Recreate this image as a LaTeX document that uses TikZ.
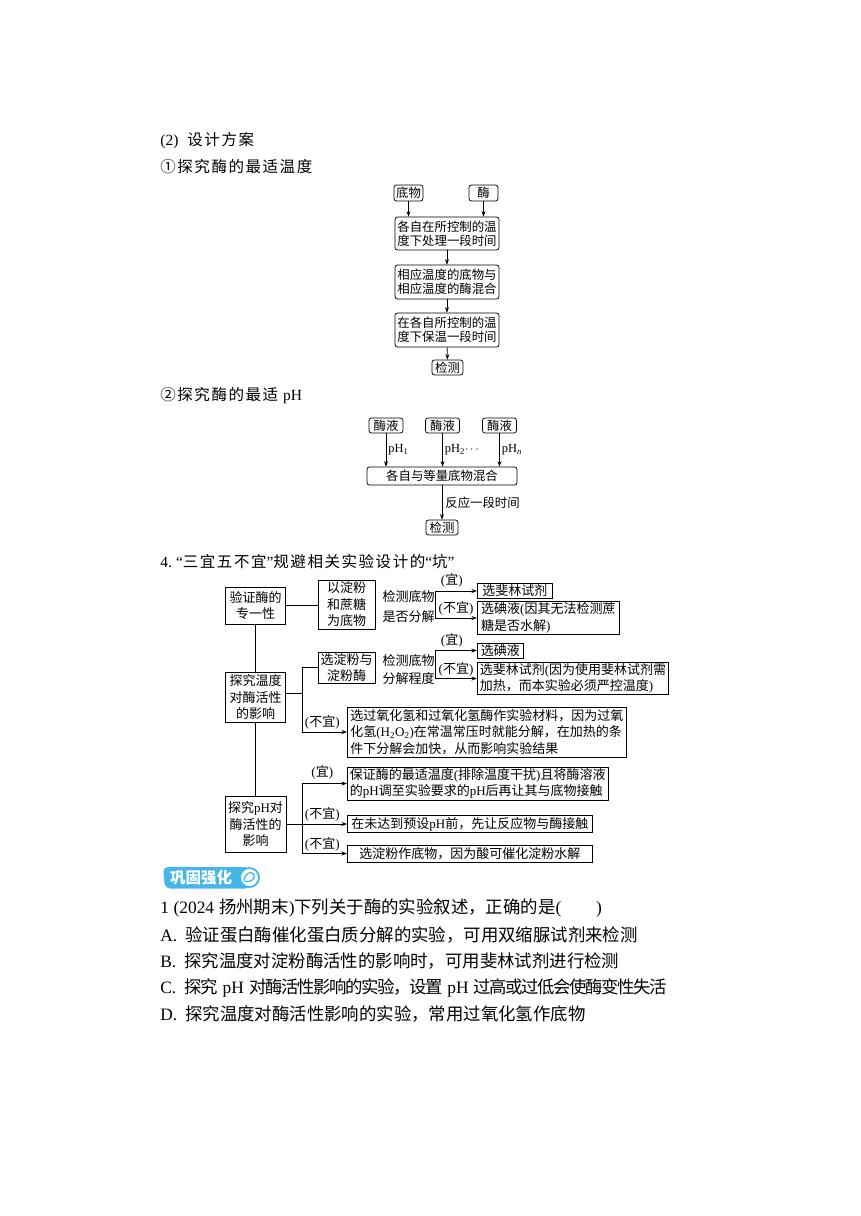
\documentclass[tikz,border=0pt]{standalone}
\usepackage{fontspec}
\setmainfont{Noto Sans CJK SC}
\newfontfamily\latf{Liberation Serif}
\newfontfamily\cjksp[LetterSpace=10]{Noto Sans CJK SC}
\newfontfamily\cjkcond[LetterSpace=-8]{Noto Sans CJK SC}
\newcommand\Lt[1]{{\latf #1}}
\newcommand\gap[1]{\hspace*{#1pt}}
\newcommand\fsA{\fontsize{12.4}{14}\selectfont}
\newcommand\fsB{\fontsize{13}{16.5}\selectfont}
\newcommand\fsH{\fontsize{15.5}{18}\selectfont\cjksp}
\newcommand\fsQ{\fontsize{17.4}{20}\selectfont}
\usetikzlibrary{arrows.meta}
\definecolor{badge}{RGB}{70,182,232}
\begin{document}
\begin{tikzpicture}[x=1pt,y=-1pt,
  line width=0.75pt,
  rbox/.style={draw, rounded corners=2.5pt, inner xsep=1.5pt, inner ysep=1pt, align=center, font=\fsA},
  sbox/.style={draw, inner xsep=2.5pt, inner ysep=1pt, align=center, font=\fsB},
  lbox/.style={draw, inner xsep=2.5pt, inner ysep=1pt, align=left, font=\fsB, anchor=west},
  plain/.style={inner sep=0pt, align=center, font=\fsB},
  lab/.style={inner sep=0pt, font=\fsB},
  arr/.style={-{Stealth[length=5.5pt,width=4pt]}},
  head/.style={anchor=west, inner sep=0pt, font=\fsH},
  ques/.style={anchor=west, inner sep=0pt, font=\fsQ}]
\useasboundingbox (0,0) rectangle (860,1216);

% headings
\node[head] (h1) at (160,141) {\Lt{(2)}\gap{9}设计方案};
\node[head] (h2) at (160,167) {①探究酶的最适温度};

% chart 1
\node[rbox, minimum width=29pt, minimum height=16pt] (a1) at (408.5,193) {底物};
\node[rbox, minimum width=29pt, minimum height=16pt] (a2) at (483.5,193) {酶};
\node[rbox, minimum width=104pt, minimum height=33pt] (a3) at (447,233.5) {各自在所控制的温\\度下处理一段时间};
\node[rbox, minimum width=104pt, minimum height=34pt] (a4) at (447,282) {相应温度的底物与\\相应温度的酶混合};
\node[rbox, minimum width=104pt, minimum height=34pt] (a5) at (447,330) {在各自所控制的温\\度下保温一段时间};
\node[rbox, minimum width=31pt, minimum height=15pt] (a6) at (447.5,367.5) {检测};
\draw[arr] (a1.south) -- (a1.south |- a3.north);
\draw[arr] (a2.south) -- (a2.south |- a3.north);
\draw[arr] (a3) -- (a4);
\draw[arr] (a4) -- (a5);
\draw[arr] (a5) -- (a6);

% chart 2
\node[head] (h3) at (160,396) {②探究酶的最适\gap{5}\Lt{pH}};
\node[rbox, minimum width=34pt, minimum height=15pt] (b1) at (386,425.5) {酶液};
\node[rbox, minimum width=34pt, minimum height=15pt] (b2) at (442.5,425.5) {酶液};
\node[rbox, minimum width=34pt, minimum height=15pt] (b3) at (499.5,425.5) {酶液};
\node[rbox, minimum width=150pt, minimum height=18pt] (b4) at (442,476) {各自与等量底物混合};
\node[rbox, minimum width=32pt, minimum height=15pt] (b5) at (442,527.5) {检测};
\draw[arr] (b1.south) -- node[right, font=\fsA, inner sep=2pt]{\Lt{pH\textsubscript{1}}} (b1.south |- b4.north);
\draw[arr] (b2.south) -- node[right, font=\fsA, inner sep=2pt]{\Lt{pH\textsubscript{2}}$\cdots$} (b2.south |- b4.north);
\draw[arr] (b3.south) -- node[right, font=\fsA, inner sep=2pt]{\Lt{pH\textsubscript{\textit{n}}}} (b3.south |- b4.north);
\draw[arr] (b4.south) -- node[right, font=\fsA, inner sep=3pt]{反应一段时间} (b5.north);

% chart 3
\node[head] (h4) at (160,562) {\Lt{4.}\gap{4}\Lt{“}三宜五不宜\Lt{”}规避相关实验设计的\Lt{“}坑\Lt{”}};

\node[sbox, minimum width=60pt, minimum height=37pt] (c1) at (255.5,605.5) {验证酶的\\专一性};
\node[sbox, minimum width=57pt, minimum height=49pt] (c2) at (346.5,604.5) {以淀粉\\和蔗糖\\为底物};
\node[plain, anchor=east, font=\fontsize{13}{20}\selectfont] (c3) at (435,607) {检测底物\\是否分解};
\node[lbox, minimum width=75pt, minimum height=15pt] (c4) at (477,591) {选斐林试剂};
\node[lbox, minimum width=142pt, minimum height=29pt] (c5) at (477,618) {选碘液\Lt{(}因其无法检测蔗\\糖是否水解\Lt{)}};
\draw (c3.east |- c4.west) -- (c3.east |- c5.west);
\draw[arr] (c3.east |- c4.west) -- node[lab, above=3pt, pos=0.4]{\Lt{(}宜\Lt{)}} (c4.west);
\draw[arr] (c3.east |- c5.west) -- node[lab, above=2pt, pos=0.5]{\Lt{(}不宜\Lt{)}} (c5.west);
\draw (c1.east) -- (c1.east -| c2.west);

\node[sbox, minimum width=60pt, minimum height=50pt] (c6) at (255.5,697) {探究温度\\对酶活性\\的影响};
\node[sbox, minimum width=57pt, minimum height=31pt] (c7) at (346.5,667.5) {选淀粉与\\淀粉酶};
\node[plain, anchor=east, font=\fontsize{13}{18}\selectfont] (c8) at (435,669.5) {检测底物\\分解程度};
\node[lbox, minimum width=46pt, minimum height=15pt] (c9) at (477,650.5) {选碘液};
\node[lbox, minimum width=191pt, minimum height=29pt] (c10) at (477,678.5) {选斐林试剂\Lt{(}因为使用斐林试剂需\\加热，而本实验必须严控温度\Lt{)}};
\draw (c8.east |- c9.west) -- (c8.east |- c10.west);
\draw[arr] (c8.east |- c9.west) -- node[lab, above=3pt, pos=0.4]{\Lt{(}宜\Lt{)}} (c9.west);
\draw[arr] (c8.east |- c10.west) -- node[lab, above=2pt, pos=0.5]{\Lt{(}不宜\Lt{)}} (c10.west);

\node[lbox, minimum width=279pt, minimum height=50pt] (c11) at (347,732) {选过氧化氢和过氧化氢酶作实验材料，因为过氧\\化氢\Lt{(H\textsubscript{2}O\textsubscript{2})}在常温常压时就能分解，在加热的条\\件下分解会加快，从而影响实验结果};
\coordinate (j2) at (302,693);
\draw (c6.east |- j2) -- (j2);
\draw (j2 |- c7.west) -- (j2 |- c11.west);
\draw (j2 |- c7.west) -- (c7.west);
\draw[arr] (j2 |- c11.west) -- node[lab, above=2pt, pos=0.45]{\Lt{(}不宜\Lt{)}} (c11.west);

\node[sbox, minimum width=61pt, minimum height=56pt] (c12) at (255.5,824) {探究\Lt{pH}对\\酶活性的\\影响};
\node[lbox, minimum width=260pt, minimum height=33pt] (c13) at (347,783.5) {保证酶的最适温度\Lt{(}排除温度干扰\Lt{)}且将酶溶液\\的\Lt{pH}调至实验要求的\Lt{pH}后再让其与底物接触};
\node[lbox, minimum width=245pt, minimum height=17pt] (c14) at (347,824) {在未达到预设\Lt{pH}前，先让反应物与酶接触};
\node[lbox, minimum width=245pt, minimum height=17pt] (c15) at (347,853.5) {选淀粉作底物，因为酸可催化淀粉水解};
\coordinate (j3) at (302,824);
\draw (c12.east) -- (j3);
\draw (j3 |- c13.west) -- (j3 |- c15.west);
\draw[arr] (j3 |- c13.west) -- node[lab, above=4pt, pos=0.45]{\Lt{(}宜\Lt{)}} (c13.west);
\draw[arr] (j3) -- node[lab, above=2pt, pos=0.45]{\Lt{(}不宜\Lt{)}} (c14.west);
\draw[arr] (j3 |- c15.west) -- node[lab, above=2pt, pos=0.45]{\Lt{(}不宜\Lt{)}} (c15.west);

\draw (c1.south) -- (c6.north);
\draw (c6.south) -- (c12.north);

% badge
\fill[badge, rounded corners=5pt] (163,867) -- (250,867) -- (250,888.5) -- (165,888.5) -- cycle;
\node[inner sep=0pt, text=white, font=\fontsize{15.5}{17}\selectfont\bfseries] (bt) at (201,878) {巩固强化};
\draw[badge, line width=1.8pt, fill=white] (249.5,877.5) circle (9.5pt);
\draw[badge, line width=1.3pt, line cap=round] (244,880.5) .. controls (245,873) and (251,870.5) .. (254,874.5) .. controls (255.5,879) and (251,882.5) .. (245,881.5);

% question
\node[ques] (q0) at (160,908) {\Lt{1\gap{4.5}(2024}\gap{5}扬州期末\Lt{)}下列关于酶的实验叙述，正确的是\Lt{(}\hspace{2em}\Lt{)}};
\node[ques] (qa) at (160,935) {\Lt{A.}\gap{8}验证蛋白酶催化蛋白质分解的实验，可用双缩脲试剂来检测};
\node[ques] (qb) at (160,961) {\Lt{B.}\gap{8}探究温度对淀粉酶活性的影响时，可用斐林试剂进行检测};
\node[ques] (qc) at (160,988) {\Lt{C.}\gap{8}{\cjkcond 探究}\gap{5}\Lt{pH}\gap{5}{\cjkcond 对酶活性影响的实验，设置}\gap{5}\Lt{pH}\gap{5}{\cjkcond 过高或过低会使酶变性失活}};
\node[ques] (qd) at (160,1014) {\Lt{D.}\gap{8}探究温度对酶活性影响的实验，常用过氧化氢作底物};
\end{tikzpicture}
\end{document}
